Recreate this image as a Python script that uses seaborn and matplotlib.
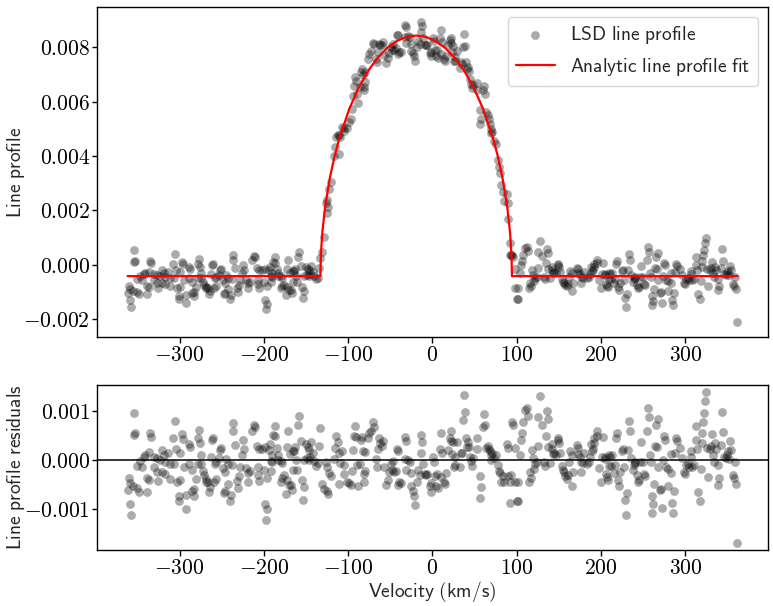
import numpy as np
import pandas as pd
import matplotlib
matplotlib.use("Agg")
import matplotlib.pyplot as plt
from matplotlib.ticker import MultipleLocator, FuncFormatter
import seaborn as sns

# ---------------- data (profile / residual / fit values in units of 1e-3) ----------------
velocity = [
    -361.7, -360.5, -359.3, -358.5, -357.3, -355.7, -354.5, -353.8, -352.6, -350.6,
    -350.6, -348.6, -346.6, -344.6, -342.6, -340.7, -338.7, -338.7, -336.7, -335.9,
    -334.7, -333.5, -330.7, -330.7, -326.8, -326.8, -326.0, -322.8, -320.8, -320.8,
    -318.8, -316.8, -316.8, -314.1, -311.7, -310.9, -307.7, -306.9, -305.7, -303.8,
    -303.0, -301.0, -301.0, -299.8, -299.0,
    -297.0, -295.9, -294.3, -291.9, -291.9, -289.1, -288.3, -287.1, -285.1, -285.1,
    -283.2, -282.4, -280.0, -278.4, -278.0, -276.4, -275.2, -274.4, -274.0, -272.0,
    -270.5, -268.1, -268.1, -266.5, -264.9, -264.1, -262.1, -261.3, -260.1, -259.3,
    -258.2, -256.2, -256.2, -253.4, -252.2, -250.6, -248.2, -247.4, -245.5, -245.5,
    -244.3, -242.7, -242.3, -240.3, -239.5, -238.3, -236.7, -236.3, -234.7, -231.6,
    -230.8, -229.6, -228.4, -225.6, -224.4, -223.6, -221.7, -218.9, -218.9, -216.5,
    -213.7, -211.7, -210.5, -208.6, -207.0, -207.0, -205.8, -205.8,
    -201.7, -199.8, -199.0, -199.0, -197.8, -196.6, -195.8, -193.8, -193.0, -191.8,
    -191.0, -190.6, -189.8, -188.7, -187.1, -186.7, -184.7, -183.1, -182.7, -179.1,
    -179.1, -177.9, -177.9, -175.9, -174.0, -172.8, -172.0, -170.8, -170.0, -169.2,
    -168.0, -166.8, -166.0, -166.0, -164.0, -163.3, -162.1, -160.9, -158.9, -158.1,
    -156.1, -155.3, -154.1, -152.9, -152.1, -150.2, -149.0, -148.2, -146.2, -146.2,
    -145.0, -144.2, -142.2, -140.2, -138.3, -136.3, -135.1, -133.1, -131.1, -129.1,
    -126.4, -125.2, -125.2, -123.6, -122.4, -120.4, -116.4, -115.6, -114.4, -112.5,
    -111.3, -110.5, -109.3,
    -107.7, -105.4, -104.6, -101.4, -98.6, -96.6, -95.8, -94.6, -93.5, -91.9,
    -90.7, -89.5, -87.9, -85.9, -84.7, -83.9, -82.7, -81.5, -80.8, -80.0,
    -80.0, -76.8, -74.8, -72.8, -70.8, -69.6, -66.9, -65.7, -64.9, -62.9,
    -61.7, -60.1, -58.9, -57.7, -55.0, -53.0, -51.0, -49.0, -48.2, -47.0,
    -45.8, -43.1, -41.9, -41.1, -40.3, -39.1, -37.1, -33.1, -33.1, -31.2,
    -31.2, -29.2, -27.2, -26.0, -25.2, -23.2, -22.0, -20.4, -18.1, -17.3,
    -15.3, -14.1, -14.1,
    -12.5, -11.3, -8.6, -7.4, -6.2, -3.4, -2.2, -1.4, 0.6, 1.7,
    3.3, 4.5, 5.7, 6.5, 8.5, 9.7, 9.7, 11.3, 13.7, 15.2,
    16.4, 18.4, 20.4, 21.6, 22.4, 23.2, 24.4, 25.6, 26.4, 27.1,
    29.5, 32.3, 33.5, 35.1, 36.3, 37.5, 39.0, 40.2, 41.4, 42.2,
    43.0, 44.2, 46.2, 47.0, 48.2, 53.3, 53.3, 56.1, 56.9, 57.3,
    60.1, 61.3, 62.1, 64.0, 66.0, 66.8, 68.0, 69.2, 70.0, 70.8,
    73.2, 74.8, 77.9, 78.7, 79.9, 81.9,
    84.0, 85.1, 87.9, 89.1, 89.1, 91.9, 91.9, 93.1, 94.7, 95.9,
    97.8, 97.8, 99.8, 101.0, 101.8, 103.8, 105.0, 106.6, 107.8, 109.7,
    111.7, 112.9, 114.5, 116.1, 116.9, 117.7, 119.7, 120.9, 121.7, 123.6,
    124.8, 125.6, 127.6, 130.4, 132.8, 133.6, 134.3, 135.5, 136.7, 137.5,
    139.5, 141.5, 142.3, 143.5, 144.7, 146.3, 148.6, 149.4, 150.2, 151.4,
    153.4, 155.4, 156.6, 157.4, 159.3, 160.5, 162.1, 163.3, 166.1, 166.1,
    167.3, 171.3, 172.4, 173.2, 175.2, 176.4,
    176.4, 178.0, 180.3, 183.1, 185.1, 187.1, 188.3, 189.1, 189.9, 191.1,
    192.2, 195.0, 195.0, 197.8, 200.2, 201.0, 201.8, 204.2, 204.9, 205.7,
    206.9, 208.1, 209.7, 209.7, 210.9, 212.1, 212.9, 214.9, 216.9, 217.6,
    218.8, 220.0, 221.6, 222.8, 224.8, 225.6, 226.8, 228.0, 229.6, 230.7,
    231.9, 233.5, 234.7, 235.9, 237.5, 238.7, 239.9, 240.7, 242.6, 243.8,
    244.6, 246.6, 247.8, 249.4, 250.6, 251.8, 254.5, 255.7, 257.3, 258.1,
    259.7, 260.5, 260.5, 261.3, 262.5, 264.5, 265.3, 266.5, 267.6, 267.6,
    270.4, 271.6, 272.4,
    273.3, 274.5, 275.6, 277.2, 279.6, 279.6, 282.4, 282.4, 284.4, 285.2,
    286.4, 287.5, 288.3, 290.3, 293.1, 295.5, 298.3, 299.5, 301.0, 303.4,
    304.2, 306.2, 306.2, 308.2, 310.2, 312.2, 312.9, 314.1, 315.3, 316.9,
    318.1, 319.3, 320.1, 320.9, 322.1, 323.3, 324.1, 326.0, 327.2, 328.8,
    330.0, 331.2, 332.8, 334.0, 335.2, 336.8, 339.1, 339.1, 339.9, 341.9,
    343.1, 344.7, 345.9, 347.9, 349.9, 351.0, 351.8, 352.6, 353.8, 356.6,
    357.8, 359.0, 360.6, 361.8,
]

residual = [
    -0.61, -0.37, -0.46, -0.89, -1.12, -0.54, 0.52, 0.96, 0.55, -0.57,
    -0.11, -0.65, -0.01, -0.15, 0.07, 0.10, -0.37, -0.65, -0.40, 0.16,
    0.55, 0.48, 0.07, -0.13, 0.05, -0.24, -0.42, 0.01, 0.21, -0.24,
    0.11, -0.04, -0.29, 0.14, -0.08, -0.38, 0.45, -0.08, 0.81, 0.24,
    -0.45, -0.74, -0.83, 0.14, -0.40,
    0.53, 0.44, -0.13, -0.71, -1.00, -0.07, 0.33, 0.27, -0.20, -0.63,
    -0.73, -0.59, -0.39, -0.07, 0.45, 0.63, 0.35, 0.10, -0.07, -0.22,
    -0.31, -0.39, -0.44, -0.44, -0.65, -0.56, 0.07, 0.41, 0.45, -0.44,
    -0.07, -0.04, -0.38, 0.04, 0.21, 0.26, -0.16, -0.67, -0.24, -0.63,
    0.03, -0.07, -0.48, -0.83, -0.71, -0.10, 0.60, 0.76, 0.31, -0.42,
    -0.57, -0.33, -0.13, 0.10, 0.41, 0.23, -0.16, -0.27, -0.45, -0.22,
    0.59, 0.73, 0.69, 0.30, -0.13, -0.30, 0.23, -0.42,
    0.24, -0.20, 0.28, -0.89, -1.22, -1.01, -0.37, 0.21, 0.33, -0.01,
    -0.22, 0.11, -0.04, 0.52, 0.70, 0.50, 0.26, 0.11, 0.01, -0.01,
    -0.44, -0.06, -0.37, -0.31, -0.69, -0.40, 0.28, 0.59, -0.50, 0.12,
    -0.50, -0.61, 0.18, -0.20, 0.18, 0.28, 0.01, -0.20, 0.72, 0.90,
    0.39, -0.40, -0.81, -0.55, 0.01, 0.33, 0.04, 0.28, 0.21, 0.01,
    0.07, 0.38, 0.14, -0.01, -0.11, -0.06, 0.29, 0.67, -0.49, -0.59,
    -0.03, -0.15, -0.63, -0.69, -0.27, -0.33, 0.03, 0.26, 0.50, 0.37,
    -0.48, 0.14, -0.06,
    0.18, -0.10, -0.29, -0.44, -0.47, -0.50, -0.22, 0.21, 0.50, 0.71,
    0.48, -0.10, -0.54, -0.08, 0.41, 0.48, 0.19, -0.29, -0.45, 0.16,
    -0.22, 0.45, 0.55, 0.59, 0.78, 0.69, 0.03, -0.13, 0.23, 0.45,
    0.35, 0.30, 0.39, -0.13, -0.50, -0.40, -0.24, -0.08, -0.20, -0.01,
    -0.24, -0.23, 0.23, 0.19, -0.50, -0.45, -0.47, 0.48, 0.03, 0.39,
    -0.20, 0.01, -0.04, -0.27, -0.54, -0.63, -0.74, -0.93, -0.44, -0.20,
    -0.30, 0.14, 0.52,
    0.37, -0.07, -0.29, -0.30, -0.29, -0.54, -0.65, -0.47, 0.07, -0.04,
    -0.33, -0.54, -0.29, -0.57, 0.23, 0.55, -0.35, 0.14, -0.45, -0.49,
    -0.27, 0.21, 0.45, 0.39, 0.59, 0.12, 0.37, -0.15, -0.10, 0.07,
    0.38, -0.13, 0.14, 0.14, 0.82, 1.33, 0.99, 0.46, 0.28, 0.38,
    0.28, 0.07, -0.01, -0.11, 0.05, 0.46, 0.23, -0.33, -0.78, -0.56,
    0.69, 0.94, 0.72, 0.26, 0.30, 0.23, 0.18, 0.11, 0.01, 0.14,
    0.05, 0.11, -0.10, -0.23, -0.27, -0.45,
    -0.33, -0.45, 0.33, 0.26, -0.33, -0.44, -0.88, -0.31, 0.79, 0.72,
    0.26, -0.44, -0.84, -0.83, -0.44, 0.10, 0.41, 0.55, 0.79, 1.03,
    1.07, 0.91, -0.45, -0.24, -0.37, 0.21, 0.04, -0.18, -0.08, -0.03,
    0.30, 0.88, 1.31, 0.73, -0.04, -0.11, 0.50, 1.01, 0.84, 0.28,
    -0.06, 0.24, 0.33, 0.12, 0.14, 0.11, 0.46, 0.41, 0.35, 0.14,
    -0.11, -0.20, -0.24, -0.33, -0.38, -0.30, -0.03, 0.18, 0.11, -0.54,
    -0.24, 0.31, 0.26, 0.12, 0.07, -0.24,
    -0.04, -0.06, 0.14, -0.08, -0.04, 0.07, 0.33, 0.18, 0.24, 0.35,
    0.46, 0.59, 0.50, -0.16, -0.45, 0.07, 0.48, 0.03, 0.07, -0.29,
    -0.35, -0.40, 0.11, -0.11, 0.07, -0.12, 0.11, -0.27, -0.10, 0.45,
    0.55, -0.40, -0.52, -0.24, 0.18, 0.23, -0.13, -0.81, -1.12, -0.67,
    0.21, 0.80, 0.59, 0.05, -0.20, -0.10, -0.04, -0.06, -0.31, -0.45,
    -0.40, -0.03, 0.38, -0.03, -0.29, -0.33, 0.59, 1.07, 0.88, 0.11,
    -0.03, -0.74, -1.08, -0.90, -0.49, 0.30, 0.72, 0.28, 0.84, -0.13,
    -0.61, -0.59, -0.98,
    0.01, 0.50, 0.41, -0.15, -0.18, -0.54, 0.12, -0.27, -0.88, -1.08,
    -0.64, 0.14, 0.45, 0.39, 0.26, 0.05, -0.24, -0.29, -0.10, -0.08,
    -0.13, 0.18, 0.07, -0.15, -0.10, 0.41, 0.71, 0.24, -0.65, -0.83,
    -0.18, 0.35, 0.55, 0.78, 0.96, 1.21, 1.39, 0.26, -0.35, 0.24,
    0.30, 0.53, 0.11, -0.04, 0.35, 0.24, -0.10, -0.50, -0.37, 0.31,
    0.99, 0.57, 0.07, 0.04, 0.11, 0.19, 0.03, 0.39, 0.21, -0.30,
    -0.37, -0.04, -0.49, -1.69,
]

profile = [
    -1.03, -0.79, -0.88, -1.31, -1.54, -0.96, 0.10, 0.54, 0.13, -0.99,
    -0.53, -1.07, -0.43, -0.57, -0.35, -0.32, -0.79, -1.07, -0.82, -0.26,
    0.13, 0.06, -0.35, -0.55, -0.37, -0.66, -0.84, -0.41, -0.21, -0.66,
    -0.31, -0.46, -0.71, -0.28, -0.50, -0.80, 0.03, -0.50, 0.39, -0.18,
    -0.87, -1.16, -1.25, -0.28, -0.82,
    0.11, 0.02, -0.55, -1.13, -1.42, -0.49, -0.09, -0.15, -0.62, -1.05,
    -1.15, -1.01, -0.81, -0.49, 0.03, 0.21, -0.07, -0.32, -0.49, -0.64,
    -0.73, -0.81, -0.86, -0.86, -1.07, -0.98, -0.35, -0.01, 0.03, -0.86,
    -0.49, -0.46, -0.80, -0.38, -0.21, -0.16, -0.58, -1.09, -0.66, -1.05,
    -0.39, -0.49, -0.90, -1.25, -1.13, -0.52, 0.18, 0.34, -0.11, -0.84,
    -0.99, -0.75, -0.55, -0.32, -0.01, -0.19, -0.58, -0.69, -0.87, -0.64,
    0.17, 0.31, 0.27, -0.12, -0.55, -0.72, -0.19, -0.84,
    -0.18, -0.62, -0.14, -1.31, -1.64, -1.43, -0.79, -0.21, -0.09, -0.43,
    -0.64, -0.31, -0.46, 0.10, 0.28, 0.08, -0.16, -0.31, -0.41, -0.43,
    -0.86, -0.48, -0.79, -0.73, -1.11, -0.82, -0.14, 0.17, -0.92, -0.30,
    -0.92, -1.03, -0.24, -0.62, -0.24, -0.14, -0.41, -0.62, 0.30, 0.48,
    -0.03, -0.82, -1.23, -0.97, -0.41, -0.09, -0.38, -0.14, -0.21, -0.41,
    -0.35, -0.04, -0.28, -0.43, -0.53, -0.48, -0.13, 0.25, 0.47, 1.03,
    2.28, 2.38, 1.90, 2.14, 2.79, 3.05, 3.99, 4.32, 4.70, 4.79,
    4.08, 4.79, 4.71,
    5.09, 5.02, 4.91, 5.05, 5.27, 5.38, 5.72, 6.23, 6.60, 6.92,
    6.78, 6.28, 5.96, 6.53, 7.09, 7.20, 6.98, 6.56, 6.44, 7.10,
    6.72, 7.56, 7.76, 7.88, 8.16, 8.12, 7.57, 7.46, 7.85, 8.14,
    8.08, 8.08, 8.21, 7.73, 7.44, 7.60, 7.81, 8.01, 7.91, 8.12,
    7.92, 7.99, 8.47, 8.45, 7.77, 7.83, 7.84, 8.84, 8.39, 8.77,
    8.18, 8.41, 8.37, 8.14, 7.88, 7.79, 7.69, 7.50, 8.00, 8.23,
    8.12, 8.56, 8.94,
    8.78, 8.34, 8.10, 8.08, 8.08, 7.79, 7.67, 7.84, 8.35, 8.23,
    7.91, 7.68, 7.90, 7.61, 8.36, 8.66, 7.76, 8.21, 7.57, 7.49,
    7.67, 8.09, 8.26, 8.17, 8.34, 7.85, 8.06, 7.50, 7.52, 7.66,
    7.87, 7.24, 7.46, 7.39, 8.02, 8.48, 8.06, 7.46, 7.22, 7.27,
    7.13, 6.85, 6.66, 6.52, 6.61, 6.68, 6.45, 5.69, 5.18, 5.37,
    6.42, 6.57, 6.27, 5.64, 5.50, 5.35, 5.19, 5.01, 4.84, 4.90,
    4.55, 4.43, 3.84, 3.60, 3.38, 2.92,
    2.69, 2.36, 2.62, 2.28, 1.69, 0.79, 0.35, 0.36, 0.37, 0.30,
    -0.16, -0.86, -1.26, -1.25, -0.86, -0.32, -0.01, 0.13, 0.37, 0.61,
    0.65, 0.49, -0.87, -0.66, -0.79, -0.21, -0.38, -0.60, -0.50, -0.45,
    -0.12, 0.46, 0.89, 0.31, -0.46, -0.53, 0.08, 0.59, 0.42, -0.14,
    -0.48, -0.18, -0.09, -0.30, -0.28, -0.31, 0.04, -0.01, -0.07, -0.28,
    -0.53, -0.62, -0.66, -0.75, -0.80, -0.72, -0.45, -0.24, -0.31, -0.96,
    -0.66, -0.11, -0.16, -0.30, -0.35, -0.66,
    -0.46, -0.48, -0.28, -0.50, -0.46, -0.35, -0.09, -0.24, -0.18, -0.07,
    0.04, 0.17, 0.08, -0.58, -0.87, -0.35, 0.06, -0.39, -0.35, -0.71,
    -0.77, -0.82, -0.31, -0.53, -0.35, -0.54, -0.31, -0.69, -0.52, 0.03,
    0.13, -0.82, -0.94, -0.66, -0.24, -0.19, -0.55, -1.23, -1.54, -1.09,
    -0.21, 0.38, 0.17, -0.37, -0.62, -0.52, -0.46, -0.48, -0.73, -0.87,
    -0.82, -0.45, -0.04, -0.45, -0.71, -0.75, 0.17, 0.65, 0.46, -0.31,
    -0.45, -1.16, -1.50, -1.32, -0.91, -0.12, 0.30, -0.14, 0.42, -0.55,
    -1.03, -1.01, -1.40,
    -0.41, 0.08, -0.01, -0.57, -0.60, -0.96, -0.30, -0.69, -1.30, -1.50,
    -1.06, -0.28, 0.03, -0.03, -0.16, -0.37, -0.66, -0.71, -0.52, -0.50,
    -0.55, -0.24, -0.35, -0.57, -0.52, -0.01, 0.29, -0.18, -1.07, -1.25,
    -0.60, -0.07, 0.13, 0.36, 0.54, 0.79, 0.97, -0.16, -0.77, -0.18,
    -0.12, 0.11, -0.31, -0.46, -0.07, -0.18, -0.52, -0.92, -0.79, -0.11,
    0.57, 0.15, -0.35, -0.38, -0.31, -0.23, -0.39, -0.03, -0.21, -0.72,
    -0.79, -0.46, -0.91, -2.11,
]

fit_velocity = [
    -361.7, -132.9, -132.3, -130.6, -127.2, -121.5, -115.9, -110.2, -98.8, -87.5,
    -76.1, -64.7, -53.4, -42.0, -30.7, -19.3, -7.9, 3.4, 14.8, 26.1,
    37.5, 48.9, 60.2, 71.6, 77.3, 82.9, 88.6, 92.0, 93.7, 94.3, 361.8,
]
fit_profile = [
    -0.42, -0.42, 0.385, 1.202, 2.156, 3.224, 4.027, 4.683, 5.726, 6.526,
    7.150, 7.633, 7.993, 8.243, 8.391, 8.44, 8.391, 8.243, 7.993, 7.633,
    7.150, 6.526, 5.726, 4.683, 4.027, 3.224, 2.156, 1.202, 0.385, -0.42, -0.42,
]
UNIT = 1e-3

x_label = r"$\mathsf{Velocity\ (km/s)}$"
y_label_top = r"$\mathsf{Line\ profile}$"
y_label_bottom = r"$\mathsf{Line\ profile\ residuals}$"
label_data = r"$\mathsf{LSD\ line\ profile}$"
label_fit = r"$\mathsf{Analytic\ line\ profile\ fit}$"

# ---------------- plotting ----------------
sns.set_theme(style="ticks")
plt.rcParams.update({
    "mathtext.fontset": "cm",
    "font.size": 15.5,
    "axes.labelsize": 14,
    "xtick.labelsize": 15.5,
    "ytick.labelsize": 15.5,
    "legend.fontsize": 14,
    "axes.edgecolor": "black",
    "axes.linewidth": 1.0,
    "xtick.color": "black",
    "ytick.color": "black",
    "xtick.major.size": 4,
    "ytick.major.size": 3.5,
    "xtick.major.pad": 2,
    "ytick.major.pad": 1.5,
    "xtick.major.width": 1.0,
    "ytick.major.width": 1.0,
})

data = pd.DataFrame({
    "velocity": velocity,
    "profile": np.asarray(profile) * UNIT,
    "residual": np.asarray(residual) * UNIT,
})
fit = pd.DataFrame({"velocity": fit_velocity, "profile": np.asarray(fit_profile) * UNIT})

fig = plt.figure(figsize=(7.73, 6.06), dpi=100)
ax1 = fig.add_axes([0.1255, 0.4439, 0.868, 0.5446])
ax2 = fig.add_axes([0.1255, 0.0924, 0.868, 0.2723])

marker_kw = dict(color="black", alpha=0.33, s=40, linewidth=0)

sns.scatterplot(data=data, x="velocity", y="profile", ax=ax1, label=label_data, **marker_kw)
sns.lineplot(data=fit, x="velocity", y="profile", ax=ax1, color="red", linewidth=1.6,
             sort=False, estimator=None, label=label_fit)

sns.scatterplot(data=data, x="velocity", y="residual", ax=ax2, **marker_kw)
ax2.axhline(0, color="black", linewidth=1.1, zorder=0)


def fmt3(y, _):
    if abs(y) < 1e-12:
        y = 0.0
    return f"${y:.3f}$"


def fmt0(x, _):
    if abs(x) < 1e-9:
        x = 0.0
    return f"${x:.0f}$"


for ax in (ax1, ax2):
    ax.xaxis.set_major_locator(MultipleLocator(100))
    ax.xaxis.set_major_formatter(FuncFormatter(fmt0))
    ax.yaxis.set_major_formatter(FuncFormatter(fmt3))
    for sp in ax.spines.values():
        sp.set_visible(True)
        sp.set_color("black")

ax1.yaxis.set_major_locator(MultipleLocator(0.002))
ax2.yaxis.set_major_locator(MultipleLocator(0.001))

ax1.set_xlabel("")
ax1.set_ylabel(y_label_top)
ax2.set_xlabel(x_label)
ax2.set_ylabel(y_label_bottom)

# label placement (axes coordinates) matching the reference layout
ax1.yaxis.set_label_coords(-0.104, 0.5)
ax2.yaxis.set_label_coords(-0.104, 0.5)
ax2.xaxis.set_label_coords(0.5, -0.178)

ax1.legend(loc="upper right", frameon=True, fancybox=True, framealpha=0.8,
           edgecolor="0.8", handlelength=2.0, borderpad=0.4, labelspacing=0.5)

fig.savefig("out.png", dpi=100)
